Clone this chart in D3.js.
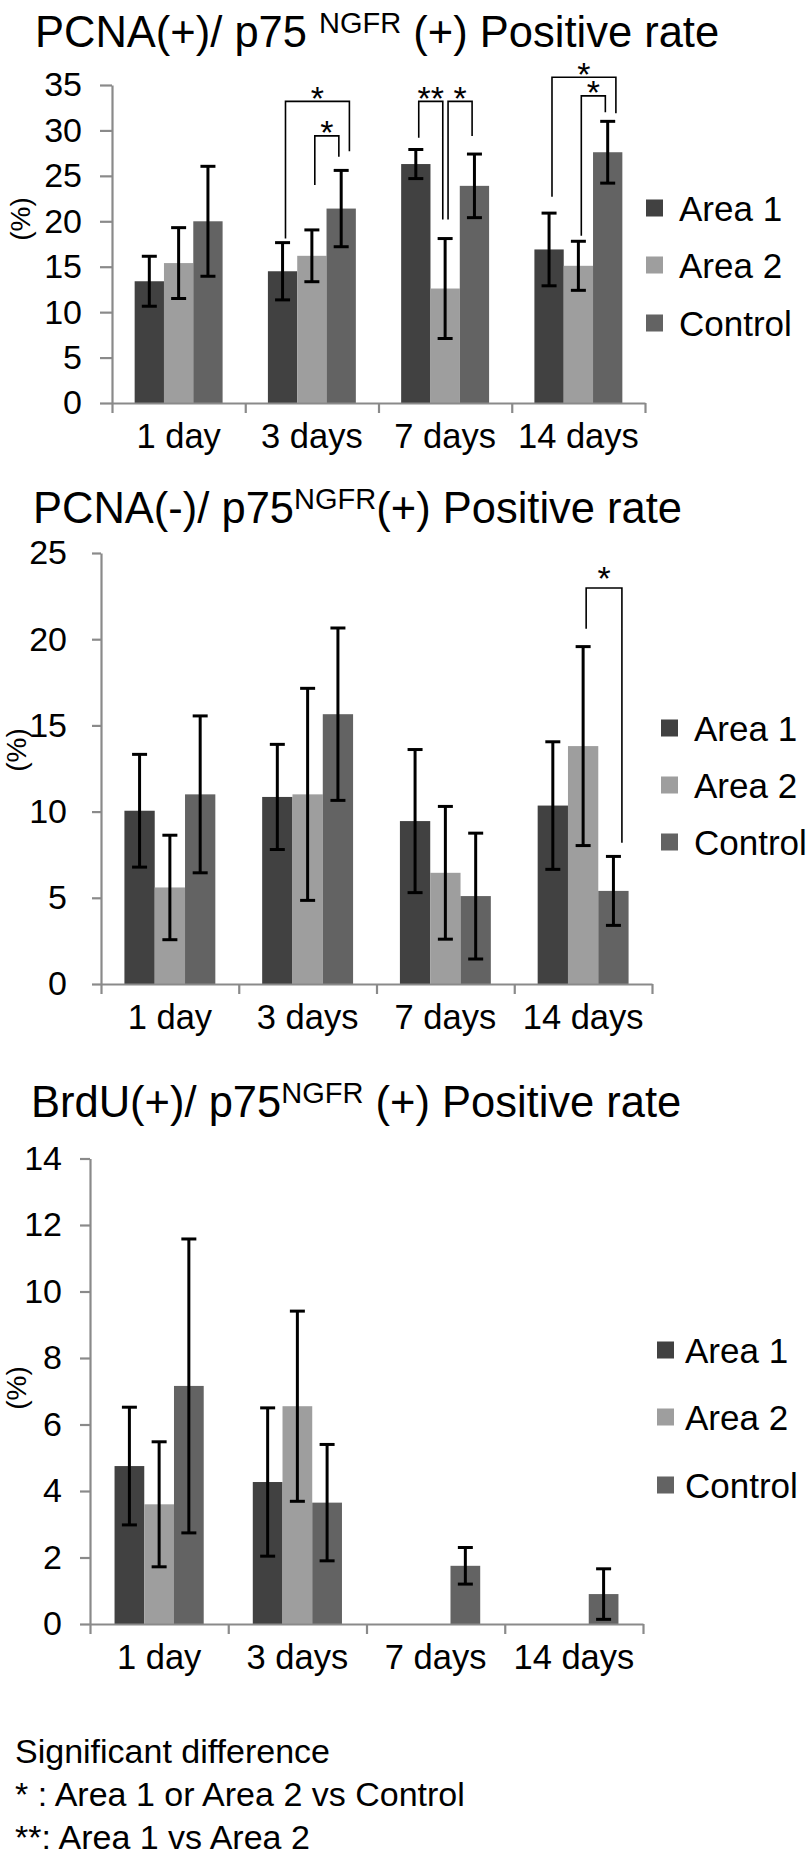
<!DOCTYPE html>
<html>
<head>
<meta charset="utf-8">
<script src="https://cdnjs.cloudflare.com/ajax/libs/d3/7.8.5/d3.min.js"></script>
<style>
  html, body { margin: 0; padding: 0; background: #ffffff; }
  text { font-family: "Liberation Sans", Arial, Helvetica, sans-serif; }
</style>
</head>
<body>
<script>
// ---------------- DATA ----------------
const categories = ["1 day", "3 days", "7 days", "14 days"];
const seriesNames = ["Area 1", "Area 2", "Control"];
const seriesColors = ["#414141", "#9e9e9e", "#636363"];

// Chart 1: PCNA(+)/p75NGFR(+)
const pcnaPosTicks = [0, 5, 10, 15, 20, 25, 30, 35];
const pcnaPosArea1 = [13.4, 14.5, 26.3, 16.9];
const pcnaPosArea1Err = [2.75, 3.15, 1.6, 4.0];
const pcnaPosArea2 = [15.4, 16.2, 12.6, 15.1];
const pcnaPosArea2Err = [3.9, 2.85, 5.5, 2.7];
const pcnaPosControl = [20.0, 21.4, 23.9, 27.6];
const pcnaPosControlErr = [6.05, 4.2, 3.5, 3.4];
const pcnaPosBrackets = [
  { cat: "3 days", from: "Area 1", to: "Control", top: 33.2, fromEnd: 18.1, toEnd: 27.7, label: "*", outer: true },
  { cat: "3 days", from: "Area 2", to: "Control", top: 29.4, fromEnd: 24.0, toEnd: 27.1, label: "*", outer: false },
  { cat: "7 days", from: "Area 1", to: "Area 2", top: 33.2, fromEnd: 29.2, toEnd: 20.2, label: "**", outer: false },
  { cat: "7 days", from: "Area 2", to: "Control", top: 33.2, fromEnd: 20.2, toEnd: 29.4, label: "*", outer: false },
  { cat: "14 days", from: "Area 1", to: "Control", top: 35.85, fromEnd: 22.7, toEnd: 31.9, label: "*", outer: true },
  { cat: "14 days", from: "Area 2", to: "Control", top: 33.8, fromEnd: 18.4, toEnd: 32.0, label: "*", outer: false }
];

// Chart 2: PCNA(-)/p75NGFR(+)
const pcnaNegTicks = [0, 5, 10, 15, 20, 25];
const pcnaNegArea1 = [10.05, 10.85, 9.45, 10.35];
const pcnaNegArea1Err = [3.27, 3.05, 4.15, 3.7];
const pcnaNegArea2 = [5.6, 11.0, 6.45, 13.8];
const pcnaNegArea2Err = [3.03, 6.15, 3.85, 5.77];
const pcnaNegControl = [11.0, 15.65, 5.1, 5.4];
const pcnaNegControlErr = [4.55, 5.0, 3.65, 2.0];
const pcnaNegBrackets = [
  { cat: "14 days", from: "Area 2", to: "Control", top: 22.97, fromEnd: 20.6, toEnd: 8.2, label: "*", outer: true }
];

// Chart 3: BrdU(+)/p75NGFR(+)
const brduTicks = [0, 2, 4, 6, 8, 10, 12, 14];
const brduArea1 = [4.75, 4.27, null, null];
const brduArea1Err = [1.77, 2.23, null, null];
const brduArea2 = [3.6, 6.55, null, null];
const brduArea2Err = [1.88, 2.86, null, null];
const brduControl = [7.16, 3.65, 1.75, 0.9];
const brduControlErr = [4.42, 1.75, 0.55, 0.76];
const brduBrackets = [];

const footnoteLines = [
  "Significant difference",
  "* : Area 1 or Area 2 vs Control",
  "**: Area 1 vs Area 2"
];

// ---------------- DRAWING ----------------
const W = 807, H = 1857;
const AXIS_COLOR = "#8a8a8a";
const svg = d3.select("body").append("svg")
  .attr("width", W).attr("height", H)
  .attr("viewBox", `0 0 ${W} ${H}`);
svg.append("rect").attr("width", W).attr("height", H).attr("fill", "#ffffff");

function drawChart(cfg) {
  const g = svg.append("g");
  const means = [cfg.a1, cfg.a2, cfg.c];
  const errs = [cfg.a1e, cfg.a2e, cfg.ce];

  const y = d3.scaleLinear().domain([0, cfg.yMax]).range([cfg.y0, cfg.yTop]);
  const x = d3.scaleBand().domain(categories).range([cfg.axisX, cfg.axisRight])
    .paddingInner(cfg.padIn).paddingOuter(cfg.padIn / 2);
  const xs = d3.scaleBand().domain(seriesNames).range([0, x.bandwidth()]);
  const xb = d3.scaleLinear().domain([0, categories.length]).range([cfg.axisX, cfg.axisRight]);

  // Title
  const t = g.append("text").attr("x", cfg.titleX).attr("y", cfg.titleY)
    .attr("font-size", 43.5).attr("fill", "#000");
  t.append("tspan").text(cfg.title[0]);
  t.append("tspan").attr("font-size", 29).attr("dy", -14).text(cfg.title[1]);
  t.append("tspan").attr("font-size", 43.5).attr("dy", 14).text(cfg.title[2]);

  // (%) label
  g.append("text")
    .attr("transform", `translate(${cfg.pct[0]},${cfg.pct[1]}) rotate(-90)`)
    .attr("text-anchor", "middle").attr("dominant-baseline", "central")
    .attr("font-size", 28).attr("fill", "#000").text("(%)");

  // Bars
  seriesNames.forEach((s, si) => {
    const rows = categories.map((c, ci) => ({ c, v: means[si][ci], e: errs[si][ci] }))
      .filter(d => d.v !== null && d.v !== undefined);
    g.append("g").selectAll("rect").data(rows).join("rect")
      .attr("x", d => x(d.c) + xs(s))
      .attr("width", xs.bandwidth())
      .attr("y", d => y(d.v))
      .attr("height", d => cfg.y0 - y(d.v))
      .attr("fill", seriesColors[si]);
  });

  // Axes
  const ya = g.append("g").attr("transform", `translate(${cfg.axisX},0)`)
    .call(d3.axisLeft(y).tickValues(cfg.ticks).tickSize(cfg.tickLen).tickSizeOuter(0)
      .tickPadding(cfg.tickPad).tickFormat(d3.format("d")));
  const xa = g.append("g").attr("transform", `translate(0,${cfg.y0})`)
    .call(d3.axisBottom(xb).tickValues(d3.range(0, categories.length + 1))
      .tickSize(10).tickSizeOuter(0).tickFormat(""));
  const xl = g.append("g").attr("transform", `translate(0,${cfg.y0})`)
    .call(d3.axisBottom(x).tickSize(0).tickPadding(21));
  xl.select(".domain").remove();
  [ya, xa].forEach(a => {
    a.selectAll(".domain, .tick line").attr("stroke", AXIS_COLOR).attr("stroke-width", 2.2);
  });
  ya.selectAll("text").attr("font-size", 34).attr("fill", "#000")
    .attr("font-family", "'Liberation Sans', Arial, sans-serif");
  xl.selectAll("text").attr("font-size", 34.5).attr("fill", "#000")
    .attr("font-family", "'Liberation Sans', Arial, sans-serif");

  // Error bars
  const cap = 7.5;
  seriesNames.forEach((s, si) => {
    const rows = categories.map((c, ci) => ({ c, v: means[si][ci], e: errs[si][ci] }))
      .filter(d => d.v !== null && d.v !== undefined && d.e);
    const eg = g.append("g").attr("stroke", "#000").attr("stroke-width", 3).attr("fill", "none");
    const cx = d => x(d.c) + xs(s) + xs.bandwidth() / 2;
    eg.selectAll("line.v").data(rows).join("line").attr("class", "v")
      .attr("x1", cx).attr("x2", cx)
      .attr("y1", d => y(d.v + d.e)).attr("y2", d => y(d.v - d.e));
    eg.selectAll("line.t").data(rows).join("line").attr("class", "t")
      .attr("x1", d => cx(d) - cap).attr("x2", d => cx(d) + cap)
      .attr("y1", d => y(d.v + d.e)).attr("y2", d => y(d.v + d.e));
    eg.selectAll("line.b").data(rows).join("line").attr("class", "b")
      .attr("x1", d => cx(d) - cap).attr("x2", d => cx(d) + cap)
      .attr("y1", d => y(d.v - d.e)).attr("y2", d => y(d.v - d.e));
  });

  // Significance brackets
  const bw = xs.bandwidth();
  const bg = g.append("g");
  cfg.brackets.forEach(b => {
    const xl0 = x(b.cat) + xs(b.from) + bw / 2 + 0.1 * bw;
    const xr0 = x(b.cat) + xs(b.to) + bw / 2 + (b.outer ? 0.28 * bw : -0.08 * bw);
    bg.append("path")
      .attr("d", `M${xl0},${y(b.fromEnd)}V${y(b.top)}H${xr0}V${y(b.toEnd)}`)
      .attr("fill", "none").attr("stroke", "#000").attr("stroke-width", 1.6);
    bg.append("text")
      .attr("x", (xl0 + xr0) / 2)
      .attr("y", y(b.top) - cfg.starLift + 0.57 * 34)
      .attr("text-anchor", "middle").attr("font-size", 34).attr("fill", "#000")
      .text(b.label);
  });

  // Legend
  const lg = g.append("g");
  seriesNames.forEach((s, si) => {
    lg.append("rect").attr("x", cfg.legSqX).attr("y", cfg.legY[si] - 8.5)
      .attr("width", 17).attr("height", 17).attr("fill", seriesColors[si]);
    lg.append("text").attr("x", cfg.legTextX).attr("y", cfg.legY[si])
      .attr("dominant-baseline", "central").attr("font-size", 35).attr("fill", "#000")
      .text(s);
  });
}

drawChart({
  title: ["PCNA(+)/ p75 ", "NGFR", " (+) Positive rate"], titleX: 35, titleY: 47,
  ticks: pcnaPosTicks, yMax: 35, axisX: 112, axisRight: 645, y0: 403, yTop: 85,
  tickLen: 12, tickPad: 18, padIn: 0.34,
  a1: pcnaPosArea1, a1e: pcnaPosArea1Err, a2: pcnaPosArea2, a2e: pcnaPosArea2Err,
  c: pcnaPosControl, ce: pcnaPosControlErr, brackets: pcnaPosBrackets, starLift: 11,
  legSqX: 646, legTextX: 679, legY: [208, 265, 323], pct: [20, 219]
});

drawChart({
  title: ["PCNA(-)/ p75", "NGFR", "(+) Positive rate"], titleX: 33, titleY: 523,
  ticks: pcnaNegTicks, yMax: 25, axisX: 101, axisRight: 652, y0: 984, yTop: 553,
  tickLen: 9, tickPad: 25, padIn: 0.34,
  a1: pcnaNegArea1, a1e: pcnaNegArea1Err, a2: pcnaNegArea2, a2e: pcnaNegArea2Err,
  c: pcnaNegControl, ce: pcnaNegControlErr, brackets: pcnaNegBrackets, starLift: 17,
  legSqX: 661, legTextX: 694, legY: [728, 785, 842], pct: [16, 750]
});

drawChart({
  title: ["BrdU(+)/ p75", "NGFR", " (+) Positive rate"], titleX: 31, titleY: 1117,
  ticks: brduTicks, yMax: 14, axisX: 90, axisRight: 643, y0: 1624, yTop: 1158.5,
  tickLen: 10, tickPad: 18, padIn: 0.355,
  a1: brduArea1, a1e: brduArea1Err, a2: brduArea2, a2e: brduArea2Err,
  c: brduControl, ce: brduControlErr, brackets: brduBrackets, starLift: 12,
  legSqX: 657, legTextX: 685, legY: [1350, 1417, 1485], pct: [16, 1388]
});

// Footnote
svg.append("g").selectAll("text").data(footnoteLines).join("text")
  .attr("x", 15)
  .attr("y", (d, i) => 1763 + i * 43)
  .attr("font-size", 34).attr("fill", "#000")
  .text(d => d);
</script>
</body>
</html>
